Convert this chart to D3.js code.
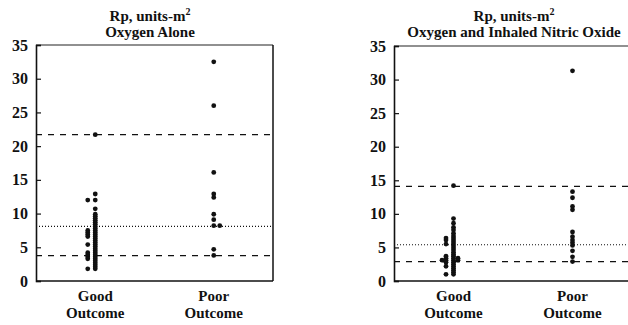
<!DOCTYPE html>
<html>
<head>
<meta charset="utf-8">
<script src="https://cdn.jsdelivr.net/npm/d3@7"></script>
<style>
  body { margin: 0; background: #fff; }
</style>
</head>
<body>
<div id="chart"></div>
<script>
var categories = ["Good Outcome", "Poor Outcome"];
var yTicks = [0, 5, 10, 15, 20, 25, 30, 35];

// Oxygen alone
var aloneGood = [21.7, 12.9, 12.0, 10.7, 9.9, 9.6, 9.3, 9.0, 8.7, 8.4, 8.1, 7.8, 7.5, 7.2, 6.9, 6.6,
  6.3, 6.0, 5.7, 5.4, 5.1, 4.8, 4.5, 4.2, 3.9, 3.6, 3.3, 3.0, 2.7, 2.4, 2.1, 1.8,
  12.0, 7.5, 7.2, 6.9, 6.6, 5.4, 4.2, 3.9, 3.6, 3.3, 1.8];
var alonePoor = [32.5, 26.0, 16.1, 12.9, 12.4, 9.9, 9.1, 8.2, 8.2, 4.7, 3.8];
var aloneLines = { upper: 21.7, median: 8.1, lower: 3.75 };

// Oxygen and inhaled nitric oxide
var inoGood = [14.2, 9.3, 8.6, 8.0, 7.6, 7.1, 6.7, 6.4, 6.1, 5.8, 5.5, 5.2, 4.9, 4.6, 4.3, 4.0,
  3.7, 3.4, 3.1, 2.8, 2.5, 2.2, 1.9, 1.6, 1.3, 1.0,
  6.4, 6.1, 5.5, 3.7, 3.4, 3.1, 2.8, 2.2, 1.0, 3.4, 3.1, 3.1];
var inoPoor = [31.3, 13.3, 12.4, 11.1, 10.6, 7.3, 6.6, 6.1, 5.7, 5.3, 4.5, 3.6, 2.9];
var inoLines = { upper: 14.1, median: 5.4, lower: 2.9 };

var width = 628, height = 325;
var serif = "'Liberation Serif', 'Times New Roman', Tinos, 'DejaVu Serif', serif";

var svg = d3.select("#chart").append("svg")
  .attr("width", width)
  .attr("height", height);

svg.append("rect").attr("width", width).attr("height", height).attr("fill", "#fff");

var panels = [
  { title: "Oxygen Alone", left: 36, right: 273, top: 45, bottom: 281, cx: 150,
    good: aloneGood, poor: alonePoor, lines: aloneLines, rightBorder: true },
  { title: "Oxygen and Inhaled Nitric Oxide", left: 394, right: 632, top: 46, bottom: 281, cx: 514,
    good: inoGood, poor: inoPoor, lines: inoLines, rightBorder: false }
];

function label(g, x, y, size, str) {
  return g.append("text")
    .attr("x", x).attr("y", y)
    .attr("text-anchor", "middle")
    .style("font-family", serif)
    .style("font-weight", "bold")
    .style("font-size", size + "px")
    .attr("fill", "#111")
    .text(str);
}

// put near-equal values side by side so they stay visible
function dodge(values, y, offsets) {
  var placed = [];
  values.forEach(function(v) {
    var py = y(v);
    for (var i = 0; i < offsets.length; i++) {
      var off = offsets[i];
      var hit = placed.some(function(p) { return p.off === off && Math.abs(p.y - py) < 1.5; });
      if (!hit || i === offsets.length - 1) {
        placed.push({ v: v, y: py, off: off });
        break;
      }
    }
  });
  return placed;
}

panels.forEach(function(p) {
  var y = d3.scaleLinear().domain([0, 35]).range([p.bottom, p.top]);
  var x = d3.scalePoint().domain(categories).range([p.left, p.right]).padding(0.5);

  var g = svg.append("g");

  // titles
  var t1 = label(g, p.cx, 21, 15, "Rp, units-m");
  t1.append("tspan").attr("dy", -6).style("font-size", "10px").text("2");
  label(g, p.cx, 37, 15, p.title);

  // reference lines
  var xEnd = Math.min(p.right, width);
  g.append("line")
    .attr("x1", p.left).attr("x2", xEnd)
    .attr("y1", y(p.lines.upper)).attr("y2", y(p.lines.upper))
    .attr("stroke", "#111").attr("stroke-width", 1.3).attr("stroke-dasharray", "6,6");
  g.append("line")
    .attr("x1", p.left).attr("x2", xEnd)
    .attr("y1", y(p.lines.lower)).attr("y2", y(p.lines.lower))
    .attr("stroke", "#111").attr("stroke-width", 1.3).attr("stroke-dasharray", "6,6");
  g.append("line")
    .attr("x1", p.left).attr("x2", xEnd)
    .attr("y1", y(p.lines.median)).attr("y2", y(p.lines.median))
    .attr("stroke", "#111").attr("stroke-width", 1.1).attr("stroke-dasharray", "1,2");

  // frame
  g.append("line").attr("x1", p.left).attr("x2", p.right).attr("y1", p.top).attr("y2", p.top)
    .attr("stroke", "#222").attr("stroke-width", 1.2);
  if (p.rightBorder) {
    g.append("line").attr("x1", p.right).attr("x2", p.right).attr("y1", p.top).attr("y2", p.bottom)
      .attr("stroke", "#111").attr("stroke-width", 1.5);
  }
  g.append("line").attr("x1", p.left).attr("x2", p.right).attr("y1", p.bottom).attr("y2", p.bottom)
    .attr("stroke", "#111").attr("stroke-width", 1.6);

  var yAxis = g.append("g")
    .attr("transform", "translate(" + p.left + ",0)")
    .call(d3.axisLeft(y).tickValues(yTicks).tickSize(-5).tickPadding(8));
  yAxis.attr("font-family", serif).attr("font-size", 16).attr("font-weight", "bold");
  yAxis.select(".domain").attr("stroke", "#111").attr("stroke-width", 1.6);
  yAxis.selectAll(".tick line").attr("stroke", "#111").attr("stroke-width", 1.2);
  yAxis.selectAll(".tick text")
    .style("font-size", "16px")
    .style("font-family", serif)
    .style("font-weight", "bold")
    .attr("fill", "#111");

  // x labels
  categories.forEach(function(c) {
    var words = c.split(" ");
    label(g, x(c), 301, 15, words[0]);
    label(g, x(c), 318, 15, words[1]);
  });

  // points
  var goodPts = dodge(p.good, y, [0, -7.5, 4.5, -11.5]);
  var poorPts = dodge(p.poor, y, [0, 6]);

  g.selectAll(".good").data(goodPts).enter().append("circle")
    .attr("class", "good")
    .attr("cx", function(d) { return x(categories[0]) + d.off; })
    .attr("cy", function(d) { return d.y; })
    .attr("r", 2.4)
    .attr("fill", "#111");

  g.selectAll(".poor").data(poorPts).enter().append("circle")
    .attr("class", "poor")
    .attr("cx", function(d) { return x(categories[1]) + d.off; })
    .attr("cy", function(d) { return d.y; })
    .attr("r", 2.4)
    .attr("fill", "#111");
});
</script>
</body>
</html>
